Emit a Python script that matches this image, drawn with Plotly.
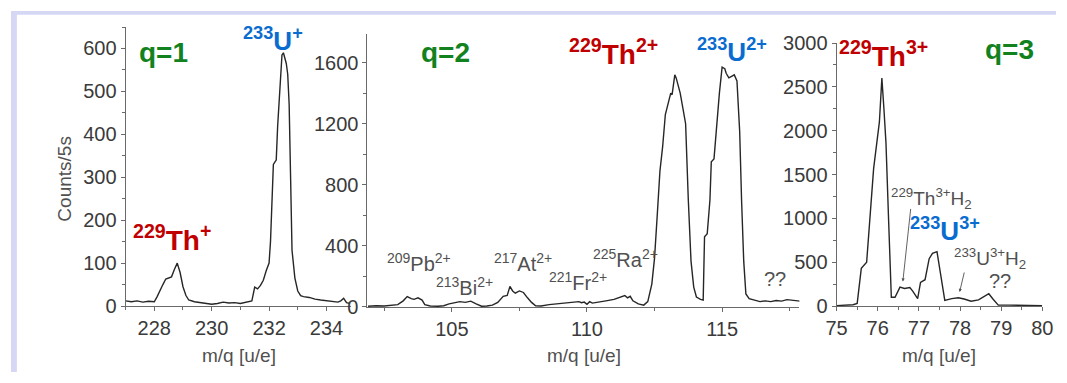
import plotly.graph_objects as go

W, H = 1067, 383

# ---- spectra: q = 1 ----
mq_q1 = [227.0, 227.2, 227.4, 227.6, 227.8, 228.0, 228.1, 228.2, 228.3, 228.4, 228.5,
         228.6, 228.7, 228.8, 228.9, 229.0, 229.1, 229.2, 229.4, 229.6, 229.8, 230.0,
         230.2, 230.4, 230.6, 230.8, 231.0, 231.2, 231.4, 231.5, 231.6, 231.7, 231.8,
         231.9, 232.0, 232.05, 232.1, 232.15, 232.2, 232.25, 232.3, 232.4, 232.45, 232.5,
         232.6, 232.65, 232.7, 232.75, 232.8, 232.9, 233.0, 233.1, 233.2, 233.4, 233.6,
         233.8, 234.0, 234.2, 234.4, 234.5, 234.6, 234.7, 234.8]
counts_q1 = [12, 10, 12, 9, 11, 10, 22, 38, 50, 63, 66,
             68, 85, 100, 78, 45, 25, 14, 10, 8, 6, 4,
             6, 9, 7, 8, 6, 9, 12, 44, 40, 48, 60,
             82, 100, 150, 250, 330, 335, 340, 420, 540, 585, 590,
             565, 540, 470, 300, 130, 65, 35, 24, 22, 20, 16,
             14, 12, 10, 9, 12, 18, 8, 6]

# ---- spectra: q = 2 ----
mq_q2 = [101.9, 102.2, 102.5, 102.8, 103.0, 103.2, 103.35, 103.5, 103.6, 103.75, 103.9,
         104.0, 104.2, 104.5, 104.7, 104.9, 105.1, 105.3, 105.5, 105.7, 105.9, 106.1,
         106.3, 106.5, 106.7, 106.9, 107.05, 107.15, 107.25, 107.35, 107.5, 107.65, 107.8,
         107.95, 108.1, 108.3, 108.6, 108.9, 109.2, 109.5, 109.7, 109.8, 109.9, 110.0,
         110.1, 110.2, 110.4, 110.7, 111.0, 111.2, 111.4, 111.5, 111.6, 111.7, 111.9,
         112.1, 112.25, 112.4, 112.5, 112.6, 112.7, 112.8, 112.9, 113.0, 113.1, 113.15,
         113.25, 113.3, 113.45, 113.55, 113.65, 113.75, 113.85, 113.95, 114.05, 114.2, 114.3,
         114.35, 114.45, 114.55, 114.6, 114.7, 114.8, 114.9, 115.0, 115.1, 115.15, 115.25,
         115.35, 115.45, 115.55, 115.65, 115.72, 115.8, 115.88, 116.0, 116.2, 116.4, 116.6,
         116.8, 117.0, 117.2, 117.4, 117.6, 117.8, 117.9]
counts_q2 = [5, 8, 6, 10, 15, 40, 68, 55, 50, 60, 45,
             15, 6, 5, 8, 20, 30, 35, 30, 38, 20, 5,
             6, 12, 30, 70, 75, 135, 105, 90, 105, 95, 60,
             30, 8, 6, 15, 20, 25, 28, 35, 28, 32, 18,
             35, 25, 30, 40, 50, 60, 75, 60, 70, 40, 20,
             12, 35, 150, 320, 600, 890, 1050, 1260, 1330, 1400, 1390,
             1520, 1500, 1400, 1300, 1200, 700, 300, 130, 65, 50, 45,
             460, 480, 700, 950, 970, 1200, 1400, 1570, 1560, 1530, 1500,
             1510, 1520, 1480, 1150, 700, 300, 85, 55, 45, 35, 40,
             35, 42, 38, 48, 44, 40, 38]

# ---- spectra: q = 3 ----
mq_q3 = [75.0, 75.2, 75.4, 75.5, 75.6, 75.73, 75.9, 76.04, 76.1, 76.15, 76.2, 76.26,
         76.33, 76.42, 76.54, 76.65, 76.78, 76.85, 76.97, 77.04, 77.15, 77.25, 77.33,
         77.44, 77.5, 77.56, 77.63, 77.8, 77.96, 78.1, 78.27, 78.45, 78.7, 78.8, 78.93,
         79.2, 79.5, 79.8, 80.0]
counts_q3 = [5, 8, 15, 30, 430, 500, 1570, 2100, 2600, 2250, 1860, 1030,
             100, 100, 215, 200, 210, 170, 85, 270, 300, 540, 600,
             620, 450, 250, 65, 85, 95, 80, 55, 70, 140, 80, 10,
             10, 8, 10, 5]

# axis ticks
x1_ticks = [228, 230, 232, 234]
x2_ticks = [105, 110, 115]
x3_ticks = [75, 76, 77, 78, 79, 80]
y1_ticks = [0, 100, 200, 300, 400, 500, 600]
y2_ticks = [0, 400, 800, 1200, 1600]
y3_ticks = [0, 500, 1000, 1500, 2000, 2500, 3000]


def px(p):
    return p / W


def py(p):
    return 1 - p / H


LINE = "#262626"
AXIS = "#6a6a6a"
FAMILY = "Liberation Sans, Arial, sans-serif"
TICKFONT = dict(family=FAMILY, size=20, color="#3a3a3a")

fig = go.Figure()
for i, (xs, ys) in enumerate([(mq_q1, counts_q1), (mq_q2, counts_q2), (mq_q3, counts_q3)], 1):
    fig.add_trace(go.Scatter(x=xs, y=ys, mode="lines",
                             line=dict(color=LINE, width=1.4),
                             xaxis=f"x{'' if i == 1 else i}", yaxis=f"y{'' if i == 1 else i}",
                             showlegend=False, hoverinfo="skip"))


def axis(dom, rng, ticks, minor_dt, anchor):
    return dict(domain=dom, range=rng, tickvals=ticks, anchor=anchor,
                showgrid=False, zeroline=False, showline=True, linecolor=AXIS, linewidth=1,
                ticks="outside", ticklen=4, tickcolor=AXIS, tickfont=TICKFONT,
                minor=dict(dtick=minor_dt, ticks="outside", ticklen=3, tickcolor=AXIS,
                           showgrid=False))


fig.update_layout(
    width=W, height=H, autosize=False, margin=dict(l=0, r=0, t=0, b=0),
    paper_bgcolor="white", plot_bgcolor="white",
    xaxis=axis([px(117), px(347)], [227.0, 234.85], x1_ticks, 1, "y"),
    yaxis=axis([py(313), py(17)], [0, 650], y1_ticks, 50, "x"),
    xaxis2=axis([px(364), px(805)], [101.88, 117.86], x2_ticks, 2.5, "y2"),
    yaxis2=axis([py(314), py(24)], [0, 1790], y2_ticks, 200, "x2"),
    xaxis3=axis([px(843), px(1053)], [75, 80], x3_ticks, 0.5, "y3"),
    yaxis3=axis([py(313), py(34)], [0, 3000], y3_ticks, 250, "x3"),
)

# lavender frame strips
fig.add_shape(type="rect", xref="paper", yref="paper", x0=0, x1=px(6), y0=0, y1=1,
              fillcolor="#d6d6f5", line_width=0, layer="below")
fig.add_shape(type="rect", xref="paper", yref="paper", x0=0, x1=1, y0=py(4), y1=1,
              fillcolor="#d6d6f5", line_width=0, layer="below")

GREEN = "#12821f"
RED = "#c00000"
BLUE = "#0a6ccf"
GREY = "#505050"


def label(text, x, y_base, size, color, bold=False, xanchor="left", desc=0.22):
    if bold:
        text = f"<b>{text}</b>"
    fig.add_annotation(text=text, xref="paper", yref="paper", x=px(x),
                       y=py(y_base + desc * size), xanchor=xanchor, yanchor="bottom",
                       showarrow=False, font=dict(family=FAMILY, size=size, color=color),
                       borderpad=0)


# charge-state tags
label("q=1", 130, 55, 28, GREEN, bold=True)
label("q=2", 418, 55, 28, GREEN, bold=True)
label("q=3", 993, 52, 28, GREEN, bold=True)

# main isotope labels
label("<sup>229</sup>Th<sup>+</sup>", 124, 255, 28, RED, bold=True)
label("<sup>233</sup>U<sup>+</sup>", 236, 43, 26, BLUE, bold=True)
label("<sup>229</sup>Th<sup>2+</sup>", 569, 57, 28, RED, bold=True)
label("<sup>233</sup>U<sup>2+</sup>", 699, 55, 26, BLUE, bold=True)
label("<sup>229</sup>Th<sup>3+</sup>", 844, 60, 28, RED, bold=True)
label("<sup>233</sup>U<sup>3+</sup>", 917, 245, 26, BLUE, bold=True)

# minor species (q=2)
label("<sup>209</sup>Pb<sup>2+</sup>", 383, 277, 20, GREY)
label("<sup>213</sup>Bi<sup>2+</sup>", 433, 302, 20, GREY)
label("<sup>217</sup>At<sup>2+</sup>", 492, 277, 20, GREY)
label("<sup>221</sup>Fr<sup>2+</sup>", 548, 297, 20, GREY)
label("<sup>225</sup>Ra<sup>2+</sup>", 593, 273, 20, GREY)
label("??", 768, 293, 20, GREY)

# minor species (q=3)
label("<sup>229</sup>Th<sup>3+</sup>H<sub>2</sub>", 898, 205, 19, GREY, desc=0.5)
label("<sup>233</sup>U<sup>3+</sup>H<sub>2</sub>", 962, 268, 19, GREY, desc=0.5)
label("??", 998, 295, 20, GREY)

# arrows to hydride peaks (tail offsets in pixels)
for tip_x, tip_y, dx, dy in [(76.61, 280, 8, -74), (77.99, 160, 5, -21)]:
    fig.add_annotation(x=tip_x, y=tip_y, xref="x3", yref="y3",
                       ax=dx, ay=dy, axref="pixel", ayref="pixel",
                       text="", showarrow=True, arrowhead=2, arrowsize=0.7,
                       arrowwidth=0.9, arrowcolor=GREY)

# axis titles
fig.add_annotation(text="Counts/5s", xref="paper", yref="paper", x=px(55), y=py(178),
                   xanchor="center", yanchor="middle", textangle=-90, showarrow=False,
                   font=dict(family=FAMILY, size=19, color=GREY))
for cx in (233, 585, 948):
    fig.add_annotation(text="m/q [u/e]", xref="paper", yref="paper", x=px(cx), y=py(366),
                       xanchor="center", yanchor="middle", showarrow=False,
                       font=dict(family=FAMILY, size=19, color=GREY))

fig.write_html("out.html")
